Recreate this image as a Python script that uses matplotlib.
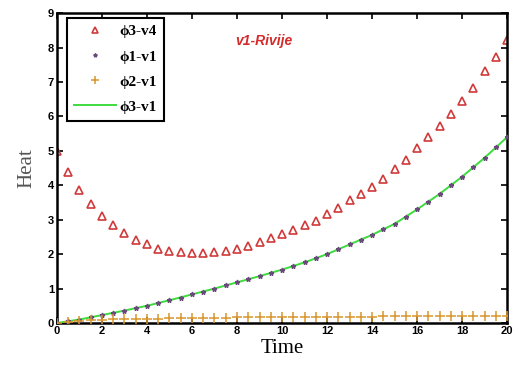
import matplotlib.pyplot as plt

# tiempos (cada 0.5)
t = [i * 0.5 for i in range(41)]

phi3_v4 = [5.00, 4.39, 3.87, 3.46, 3.11, 2.85, 2.60, 2.42, 2.28, 2.15,
           2.10, 2.07, 2.03, 2.03, 2.05, 2.08, 2.15, 2.25, 2.36, 2.46,
           2.58, 2.70, 2.85, 2.97, 3.17, 3.35, 3.56, 3.75, 3.96, 4.19,
           4.48, 4.74, 5.08, 5.40, 5.73, 6.08, 6.46, 6.84, 7.33, 7.74, 8.23]

phi1_v1 = [0.00, 0.05, 0.10, 0.16, 0.23, 0.29, 0.36, 0.43, 0.50, 0.58,
           0.66, 0.74, 0.83, 0.91, 1.00, 1.09, 1.18, 1.27, 1.36, 1.45,
           1.55, 1.65, 1.76, 1.88, 2.00, 2.14, 2.28, 2.42, 2.56, 2.72,
           2.88, 3.08, 3.30, 3.52, 3.75, 4.00, 4.25, 4.52, 4.80, 5.10, 5.40]

phi2_v1 = [0.00, 0.04, 0.07, 0.09, 0.10, 0.11, 0.12, 0.12, 0.13, 0.13,
           0.14, 0.14, 0.14, 0.15, 0.15, 0.15, 0.16, 0.16, 0.16, 0.16,
           0.17, 0.17, 0.17, 0.17, 0.18, 0.18, 0.18, 0.18, 0.18, 0.19,
           0.19, 0.19, 0.19, 0.19, 0.19, 0.20, 0.20, 0.20, 0.20, 0.20, 0.20]

t_linea = list(range(21))
phi3_v1 = [0.00, 0.10, 0.23, 0.36, 0.50, 0.66, 0.83, 1.00, 1.18, 1.36, 1.55,
           1.76, 2.00, 2.28, 2.56, 2.88, 3.30, 3.75, 4.25, 4.80, 5.40]

fig = plt.figure(figsize=(5.17, 3.76), dpi=100)
ax = fig.add_axes([0.110, 0.141, 0.871, 0.824])

ax.plot(t, phi3_v4, linestyle='none', marker='^', markersize=6.2, markerfacecolor='none',
        markeredgecolor='#d03a3a', markeredgewidth=1.2, label='ϕ3-v4')
ax.plot(t, phi1_v1, linestyle='none', marker='*', markersize=3.5, color='#6a4a7a',
        label='ϕ1-v1', zorder=4)
ax.plot(t, phi2_v1, linestyle='none', marker='+', markersize=6.5, color='#d9962e',
        markeredgewidth=1.1, label='ϕ2-v1', zorder=4)
ax.plot(t_linea, phi3_v1, color='#3ddc3d', linewidth=1.4, label='ϕ3-v1', zorder=3)

ax.text(9.2, 8.2, 'v1-Rivije', color='#d42a2a', fontsize=10, fontweight='bold',
        fontstyle='italic', ha='center', va='center', family='Liberation Sans')

ax.set_xlim(0, 20)
ax.set_ylim(0, 9)
ax.set_xticks(range(0, 21, 2))
ax.set_yticks(range(0, 10))
ax.tick_params(direction='in', top=True, right=True, length=4, width=1.2,
               labelsize=8, pad=2)
for lab in ax.get_xticklabels() + ax.get_yticklabels():
    lab.set_fontweight('bold')
    lab.set_family('Liberation Sans')
for s in ax.spines.values():
    s.set_linewidth(1.8)

ax.set_xlabel('Time', fontsize=15, family='Liberation Serif', labelpad=2)
ax.set_ylabel('Heat', fontsize=15, family='Liberation Serif', color='#555555', labelpad=8)

leg = ax.legend(loc='upper left', bbox_to_anchor=(0.022, 0.985), borderaxespad=0,
                fancybox=False, edgecolor='black', framealpha=1, markerscale=0.8,
                prop={'family': ['Liberation Serif', 'DejaVu Sans'], 'weight': 'bold', 'size': 11},
                handlelength=2.8, labelspacing=0.75, handletextpad=0.2, borderpad=0.45)
leg.get_frame().set_linewidth(1.5)

plt.savefig('out.png', dpi=100)
